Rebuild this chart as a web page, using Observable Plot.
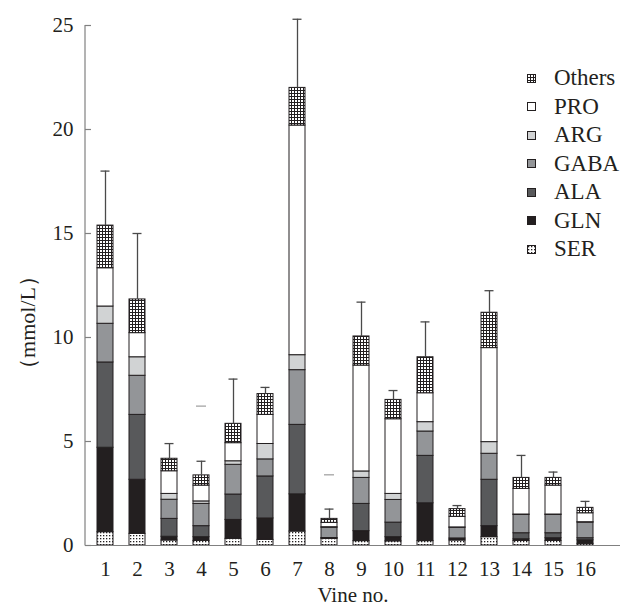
<!DOCTYPE html>
<html>
<head>
<meta charset="utf-8">
<script src="https://cdn.jsdelivr.net/npm/d3@7"></script>
<script src="https://cdn.jsdelivr.net/npm/@observablehq/plot@0.6"></script>
<style>
  body { margin: 0; background: #fff; }
  #wrap { position: relative; width: 622px; height: 609px; font-family: "Liberation Serif", "DejaVu Serif", serif; color: #231f20; }
  #legend { position: absolute; left: 527px; top: 64px; }
  .row { display: flex; align-items: center; height: 28.5px; font-size: 23px; line-height: 28.5px; white-space: nowrap; }
  .row svg { margin-right: 18px; flex: none; }
</style>
</head>
<body>
<div id="wrap"></div>
<script>
// ---- data (mmol/L) ----
const vines  = ["1","2","3","4","5","6","7","8","9","10","11","12","13","14","15","16"];
const series = ["SER","GLN","ALA","GABA","ARG","PRO","Others"];           // bottom -> top
const legendOrder = ["Others","PRO","ARG","GABA","ALA","GLN","SER"];
const SER    = [0.64,0.56,0.24,0.22,0.32,0.27,0.67,0.32,0.21,0.20,0.21,0.24,0.40,0.22,0.22,0.08];
const GLN    = [4.06,2.60,0.18,0.18,0.91,1.03,1.79,0.02,0.48,0.20,1.82,0.05,0.53,0.08,0.13,0.17];
const ALA    = [4.10,3.12,0.86,0.53,1.22,2.02,3.34,0.02,1.31,0.70,2.28,0.05,2.23,0.29,0.24,0.10];
const GABA   = [1.86,1.88,0.92,1.07,1.43,0.82,2.63,0.49,1.25,1.09,1.17,0.51,1.25,0.88,0.88,0.75];
const ARG    = [0.83,0.89,0.28,0.12,0.17,0.74,0.72,0.03,0.31,0.29,0.45,0.02,0.56,0.02,0.02,0.02];
const PRO    = [1.84,1.16,1.09,0.76,0.87,1.40,11.04,0.21,5.09,3.59,1.39,0.51,4.52,1.23,1.39,0.43];
const Others = [2.05,1.62,0.60,0.49,0.93,1.00,1.81,0.19,1.40,0.93,1.73,0.37,1.70,0.53,0.37,0.26];
const errHigh = [18.0,15.0,4.9,4.05,8.0,7.6,25.3,1.75,11.7,7.45,10.75,1.92,12.25,4.33,3.53,2.12];
const yTicks = [0,5,10,15,20,25];
const strayVine = ["4","8"];
const strayY    = [6.7,3.4];

// ---- styles ----
const fills = {SER:"url(#pSER)", GLN:"#231f20", ALA:"#58595b", GABA:"#939598", ARG:"#d1d3d4", PRO:"#ffffff", Others:"url(#pOthers)"};
const ink = "#231f20";
const axisGray = "#808080";

const bySeries = {SER, GLN, ALA, GABA, ARG, PRO, Others};
const rows = [];
vines.forEach((v, i) => series.forEach(s => rows.push({vine: v, series: s, value: bySeries[s][i]})));
const totals = vines.map((v, i) => d3.sum(series, s => bySeries[s][i]));
const errs = vines.map((v, i) => ({vine: v, lo: totals[i], hi: errHigh[i]}));
const strays = strayVine.map((v, i) => ({vine: v, y: strayY[i]}));

function leftAxisLine(index, scales, values, dims) {
  const y0 = scales.y(0), y1 = scales.y(25);
  return d3.create("svg:line")
    .attr("x1", dims.marginLeft).attr("x2", dims.marginLeft)
    .attr("y1", y1).attr("y2", y0 + 0.5)
    .attr("stroke", axisGray).attr("stroke-width", 1.2).node();
}

const chart = Plot.plot({
  width: 622,
  height: 609,
  marginLeft: 85,
  marginRight: 2,
  marginTop: 25,
  marginBottom: 64,
  style: {fontFamily: '"Liberation Serif", "DejaVu Serif", serif', color: ink, background: "#fff"},
  x: {domain: vines, range: [85, 605], paddingInner: 0.5, paddingOuter: 0.375},
  y: {domain: [0, 25]},
  color: {domain: series, range: series.map(s => fills[s])},
  marks: [
    Plot.barY(rows, {x: "vine", y: "value", z: "series", fill: "series", order: series, stroke: ink, strokeWidth: 1}),
    Plot.ruleX(errs, {x: "vine", y1: "lo", y2: "hi", stroke: "#4a4a4a", strokeWidth: 1.3}),
    Plot.tickY(errs, {x: "vine", y: "hi", stroke: "#4a4a4a", strokeWidth: 1.3, insetLeft: 3.5, insetRight: 3.5}),
    Plot.tickY(strays, {x: "vine", y: "y", stroke: "#b0b0b0", strokeWidth: 1.5, insetLeft: 3, insetRight: 3}),
    Plot.ruleY([0], {stroke: axisGray, strokeWidth: 1.2}),
    leftAxisLine,
    Plot.tickY(yTicks, {y: d => d, stroke: axisGray, strokeWidth: 1.2, insetRight: 622 - 85 - 2 - 6}),
    Plot.axisY({ticks: yTicks, tickSize: 0, tickPadding: 12, fontSize: 21, label: null, tickFormat: d => String(d)}),
    Plot.axisX({tickSize: 0, tickPadding: 16, fontSize: 21, label: null}),
    Plot.text(["Vine no."], {frameAnchor: "bottom", dy: 56, fontSize: 21, fill: ink}),
    Plot.text(["（mmol/L）"], {frameAnchor: "left", textAnchor: "middle", rotate: -90, dx: -58, dy: 37, fontSize: 22, fill: ink})
  ]
});

// pattern defs
const defs = d3.select(chart).insert("defs", ":first-child");
const pO = defs.append("pattern").attr("id", "pOthers").attr("patternUnits", "userSpaceOnUse").attr("width", 3).attr("height", 3);
pO.append("rect").attr("width", 3).attr("height", 3).attr("fill", "#fff");
pO.append("rect").attr("width", 3).attr("height", 1).attr("fill", ink);
pO.append("rect").attr("width", 1).attr("height", 3).attr("fill", ink);
const pS = defs.append("pattern").attr("id", "pSER").attr("patternUnits", "userSpaceOnUse").attr("width", 3).attr("height", 3);
pS.append("rect").attr("width", 3).attr("height", 3).attr("fill", "#fff");
pS.append("rect").attr("x", 1).attr("y", 1).attr("width", 1.3).attr("height", 1.3).attr("fill", ink);

const wrap = document.getElementById("wrap");
wrap.appendChild(chart);

// legend overlay
const legend = d3.select(wrap).append("div").attr("id", "legend");
legendOrder.forEach(s => {
  const row = legend.append("div").attr("class", "row");
  const sw = row.append("svg").attr("width", 9).attr("height", 9);
  sw.append("rect").attr("x", 0.5).attr("y", 0.5).attr("width", 8).attr("height", 8)
    .attr("fill", fills[s]).attr("stroke", ink).attr("stroke-width", 1);
  row.append("span").text(s);
});
</script>
</body>
</html>
